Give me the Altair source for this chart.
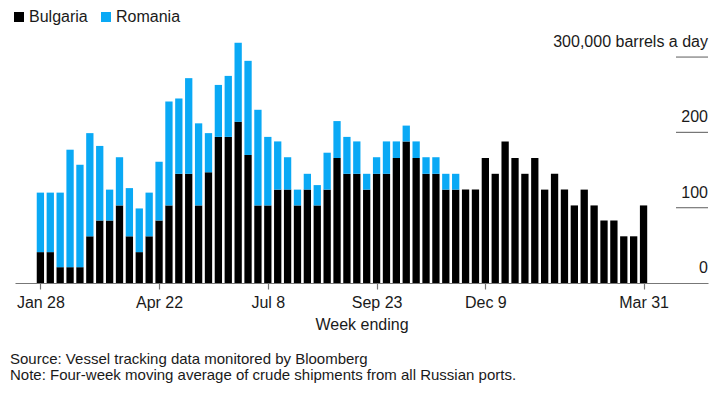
import altair as alt
import pandas as pd

# Weekly data (week ending Fridays), thousand barrels a day
week_start = "2022-01-28"
n_weeks = 62

bulgaria = [41, 41, 21, 21, 21, 62, 83, 83, 103, 62,
            41, 62, 83, 103, 145, 145, 103, 147, 194, 194,
            214, 170, 103, 103, 124, 124, 103, 124, 103, 124,
            166, 145, 145, 124, 145, 145, 166, 188, 166, 145,
            145, 124, 124, 124, 124, 166, 145, 188, 166, 145,
            166, 124, 145, 124, 103, 124, 103, 83, 83, 62,
            62, 103]

romania = [79, 79, 99, 156, 136, 137, 99, 41, 64, 64,
           58, 58, 78, 138, 100, 127, 109, 52, 69, 81,
           105, 125, 127, 91, 64, 43, 21, 21, 27, 49,
           49, 49, 43, 21, 22, 43, 22, 21, 22, 22,
           22, 21, 21, 0, 0, 0, 0, 0, 0, 0,
           0, 0, 0, 0, 0, 0, 0, 0, 0, 0,
           0, 0]

series_names = ["Bulgaria", "Romania"]
series_colors = ["#000000", "#0aa9f5"]

tick_dates = [(2022, 1, 28), (2022, 4, 22), (2022, 7, 8),
              (2022, 9, 23), (2022, 12, 9), (2023, 3, 31)]

y_ticks = [0, 100, 200, 300]
y_labels = ["0", "100", "200", "300,000 barrels a day"]

source_text = "Source: Vessel tracking data monitored by Bloomberg"
note_text = "Note: Four-week moving average of crude shipments from all Russian ports."

FONT = "Liberation Sans"
TEXT_COLOR = "#1a1a1a"
AXIS_GRAY = "#777777"

dates = pd.date_range(week_start, periods=n_weeks, freq="7D").strftime("%Y-%m-%d").tolist()
rows = []
for d, b, r in zip(dates, bulgaria, romania):
    rows.append({"date": d, "country": "Bulgaria", "value": b, "ord": 0})
    rows.append({"date": d, "country": "Romania", "value": r, "ord": 1})
df = pd.DataFrame(rows)

W, H = 693, 241
x_scale = alt.Scale(
    type="utc",
    domain=[alt.DateTime(year=2022, month=1, date=13, hours=13, minutes=30, utc=True),
            alt.DateTime(year=2023, month=5, date=12, hours=2, utc=True)],
)
y_scale = alt.Scale(domain=[0, 320], nice=False, zero=True)

bars = alt.Chart(df).mark_bar(width=7.3).encode(
    x=alt.X("date:T", scale=x_scale,
            axis=alt.Axis(
                values=[alt.DateTime(year=y, month=m, date=d, utc=True) for (y, m, d) in tick_dates],
                labelExpr="utcFormat(datum.value, '%b %-d')",
                title="Week ending",
                grid=False,
                domainColor=AXIS_GRAY, domainWidth=1.2,
                tickColor=AXIS_GRAY, tickSize=6, tickWidth=1.2,
                labelFont=FONT, labelFontSize=16, labelColor=TEXT_COLOR,
                labelPadding=5, labelFlush=False,
                titleFont=FONT, titleFontSize=16, titleFontWeight="normal",
                titleColor=TEXT_COLOR, titlePadding=6,
            )),
    y=alt.Y("value:Q", stack="zero", scale=y_scale, axis=None),
    color=alt.Color("country:N",
                    scale=alt.Scale(domain=series_names, range=series_colors),
                    legend=alt.Legend(
                        title=None, orient="none", direction="horizontal",
                        legendX=-4, legendY=-33,
                        symbolType="square", symbolSize=100, symbolStrokeWidth=0,
                        labelFont=FONT, labelFontSize=16, labelColor=TEXT_COLOR,
                        labelOffset=2, columnPadding=10, padding=0,
                    )),
    order=alt.Order("ord:Q", sort="ascending"),
)

ydf = pd.DataFrame({"v": y_ticks, "label": y_labels})

grid = alt.Chart(ydf[ydf["v"] > 0]).mark_rule(color=AXIS_GRAY, strokeWidth=1.2).encode(
    y=alt.Y("v:Q", scale=y_scale, axis=None),
    x=alt.value(661), x2=alt.value(W),
)

ylab = alt.Chart(ydf).mark_text(
    align="right", baseline="alphabetic", dy=-10,
    font=FONT, fontSize=16, color=TEXT_COLOR,
).encode(
    y=alt.Y("v:Q", scale=y_scale, axis=None),
    x=alt.value(W),
    text="label:N",
)

notes_df = pd.DataFrame({"t": [source_text, note_text], "yy": [322, 338]})
notes = alt.Chart(notes_df).mark_text(
    align="left", baseline="alphabetic", font=FONT, fontSize=15, color=TEXT_COLOR,
).encode(
    x=alt.value(-5),
    y=alt.Y("yy:Q", scale=None),
    text="t:N",
)

chart = alt.layer(bars, grid, ylab, notes).properties(
    width=W, height=H,
    autosize=alt.AutoSizeParams(type="none"),
    padding={"left": 7, "top": 34, "right": 7, "bottom": 105},
    background="white",
).configure_view(stroke=None)

chart.save("out.html", embed_options={"renderer": "svg", "actions": False})
